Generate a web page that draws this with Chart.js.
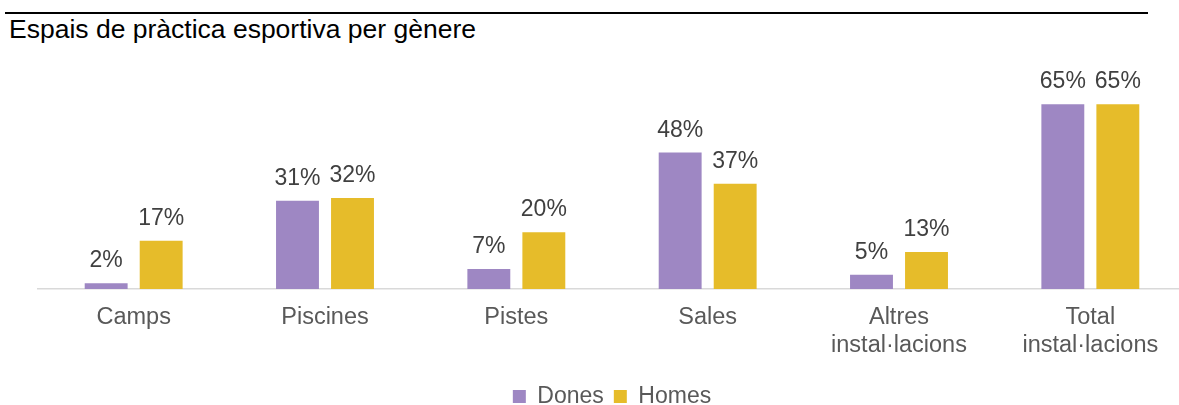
<!DOCTYPE html>
<html lang="ca">
<head>
<meta charset="utf-8">
<title>Espais de pràctica esportiva per gènere</title>
<script src="https://cdn.jsdelivr.net/npm/chart.js@4/dist/chart.umd.min.js"></script>
<style>
  html, body { margin: 0; padding: 0; background: #ffffff; }
  body { width: 1179px; height: 405px; overflow: hidden; position: relative; }
  #rule { position: absolute; left: 5px; top: 12px; width: 1143px; height: 2px; background: #000000; }
  #title { position: absolute; left: 9px; top: 16px; font-family: "Liberation Sans", Arial, sans-serif;
           font-size: 26.5px; line-height: 26px; color: #000000; white-space: nowrap; }
  #chart { position: absolute; left: 0; top: 0; }
</style>
</head>
<body>
<div id="rule"></div>
<div id="title">Espais de pràctica esportiva per gènere</div>
<canvas id="chart" width="1190" height="418"></canvas>
<script>
// Categories (multi-line labels as arrays)
const categories = [
  'Camps',
  'Piscines',
  'Pistes',
  'Sales',
  ['Altres', 'instal·lacions'],
  ['Total', 'instal·lacions']
];
const seriesNames = ['Dones', 'Homes'];
const donesValues = [2, 31, 7, 48, 5, 65];
const homesValues = [17, 32, 20, 37, 13, 65];

const FONT = '"Liberation Sans", Arial, sans-serif';
const colors = ['#9E87C3', '#E6BC2A'];

// Percentage labels above each bar
const valueLabels = {
  id: 'valueLabels',
  afterDatasetsDraw(chart) {
    const ctx = chart.ctx;
    ctx.save();
    ctx.font = '23px ' + FONT;
    ctx.fillStyle = '#404040';
    ctx.textAlign = 'center';
    ctx.textBaseline = 'alphabetic';
    chart.data.datasets.forEach((ds, i) => {
      const meta = chart.getDatasetMeta(i);
      meta.data.forEach((bar, j) => {
        ctx.fillText(ds.data[j] + '%', bar.x, bar.y - 16);
      });
    });
    ctx.restore();
  }
};

new Chart(document.getElementById('chart'), {
  type: 'bar',
  data: {
    labels: categories,
    datasets: [
      { label: seriesNames[0], data: donesValues, backgroundColor: colors[0] },
      { label: seriesNames[1], data: homesValues, backgroundColor: colors[1] }
    ]
  },
  options: {
    responsive: false,
    animation: false,
    devicePixelRatio: 1,
    layout: { padding: { top: 90, left: 38, right: 4, bottom: 0 } },
    datasets: { bar: { categoryPercentage: 0.575, barPercentage: 0.78 } },
    scales: {
      x: {
        grid: { display: false, drawTicks: false },
        border: { display: true, color: '#D9D9D9', width: 1.5 },
        ticks: {
          color: '#595959',
          font: { family: FONT, size: 23.5, lineHeight: 1.19 },
          padding: 15,
          maxRotation: 0,
          autoSkip: false
        },
        afterFit(scale) { scale.height = 86; }
      },
      y: {
        display: false,
        min: 0,
        max: 70
      }
    },
    plugins: {
      legend: {
        position: 'bottom',
        labels: {
          boxWidth: 13,
          boxHeight: 13,
          padding: 10,
          color: '#595959',
          font: { family: FONT, size: 23 }
        }
      },
      tooltip: { enabled: false }
    }
  },
  plugins: [valueLabels]
});
</script>
</body>
</html>
